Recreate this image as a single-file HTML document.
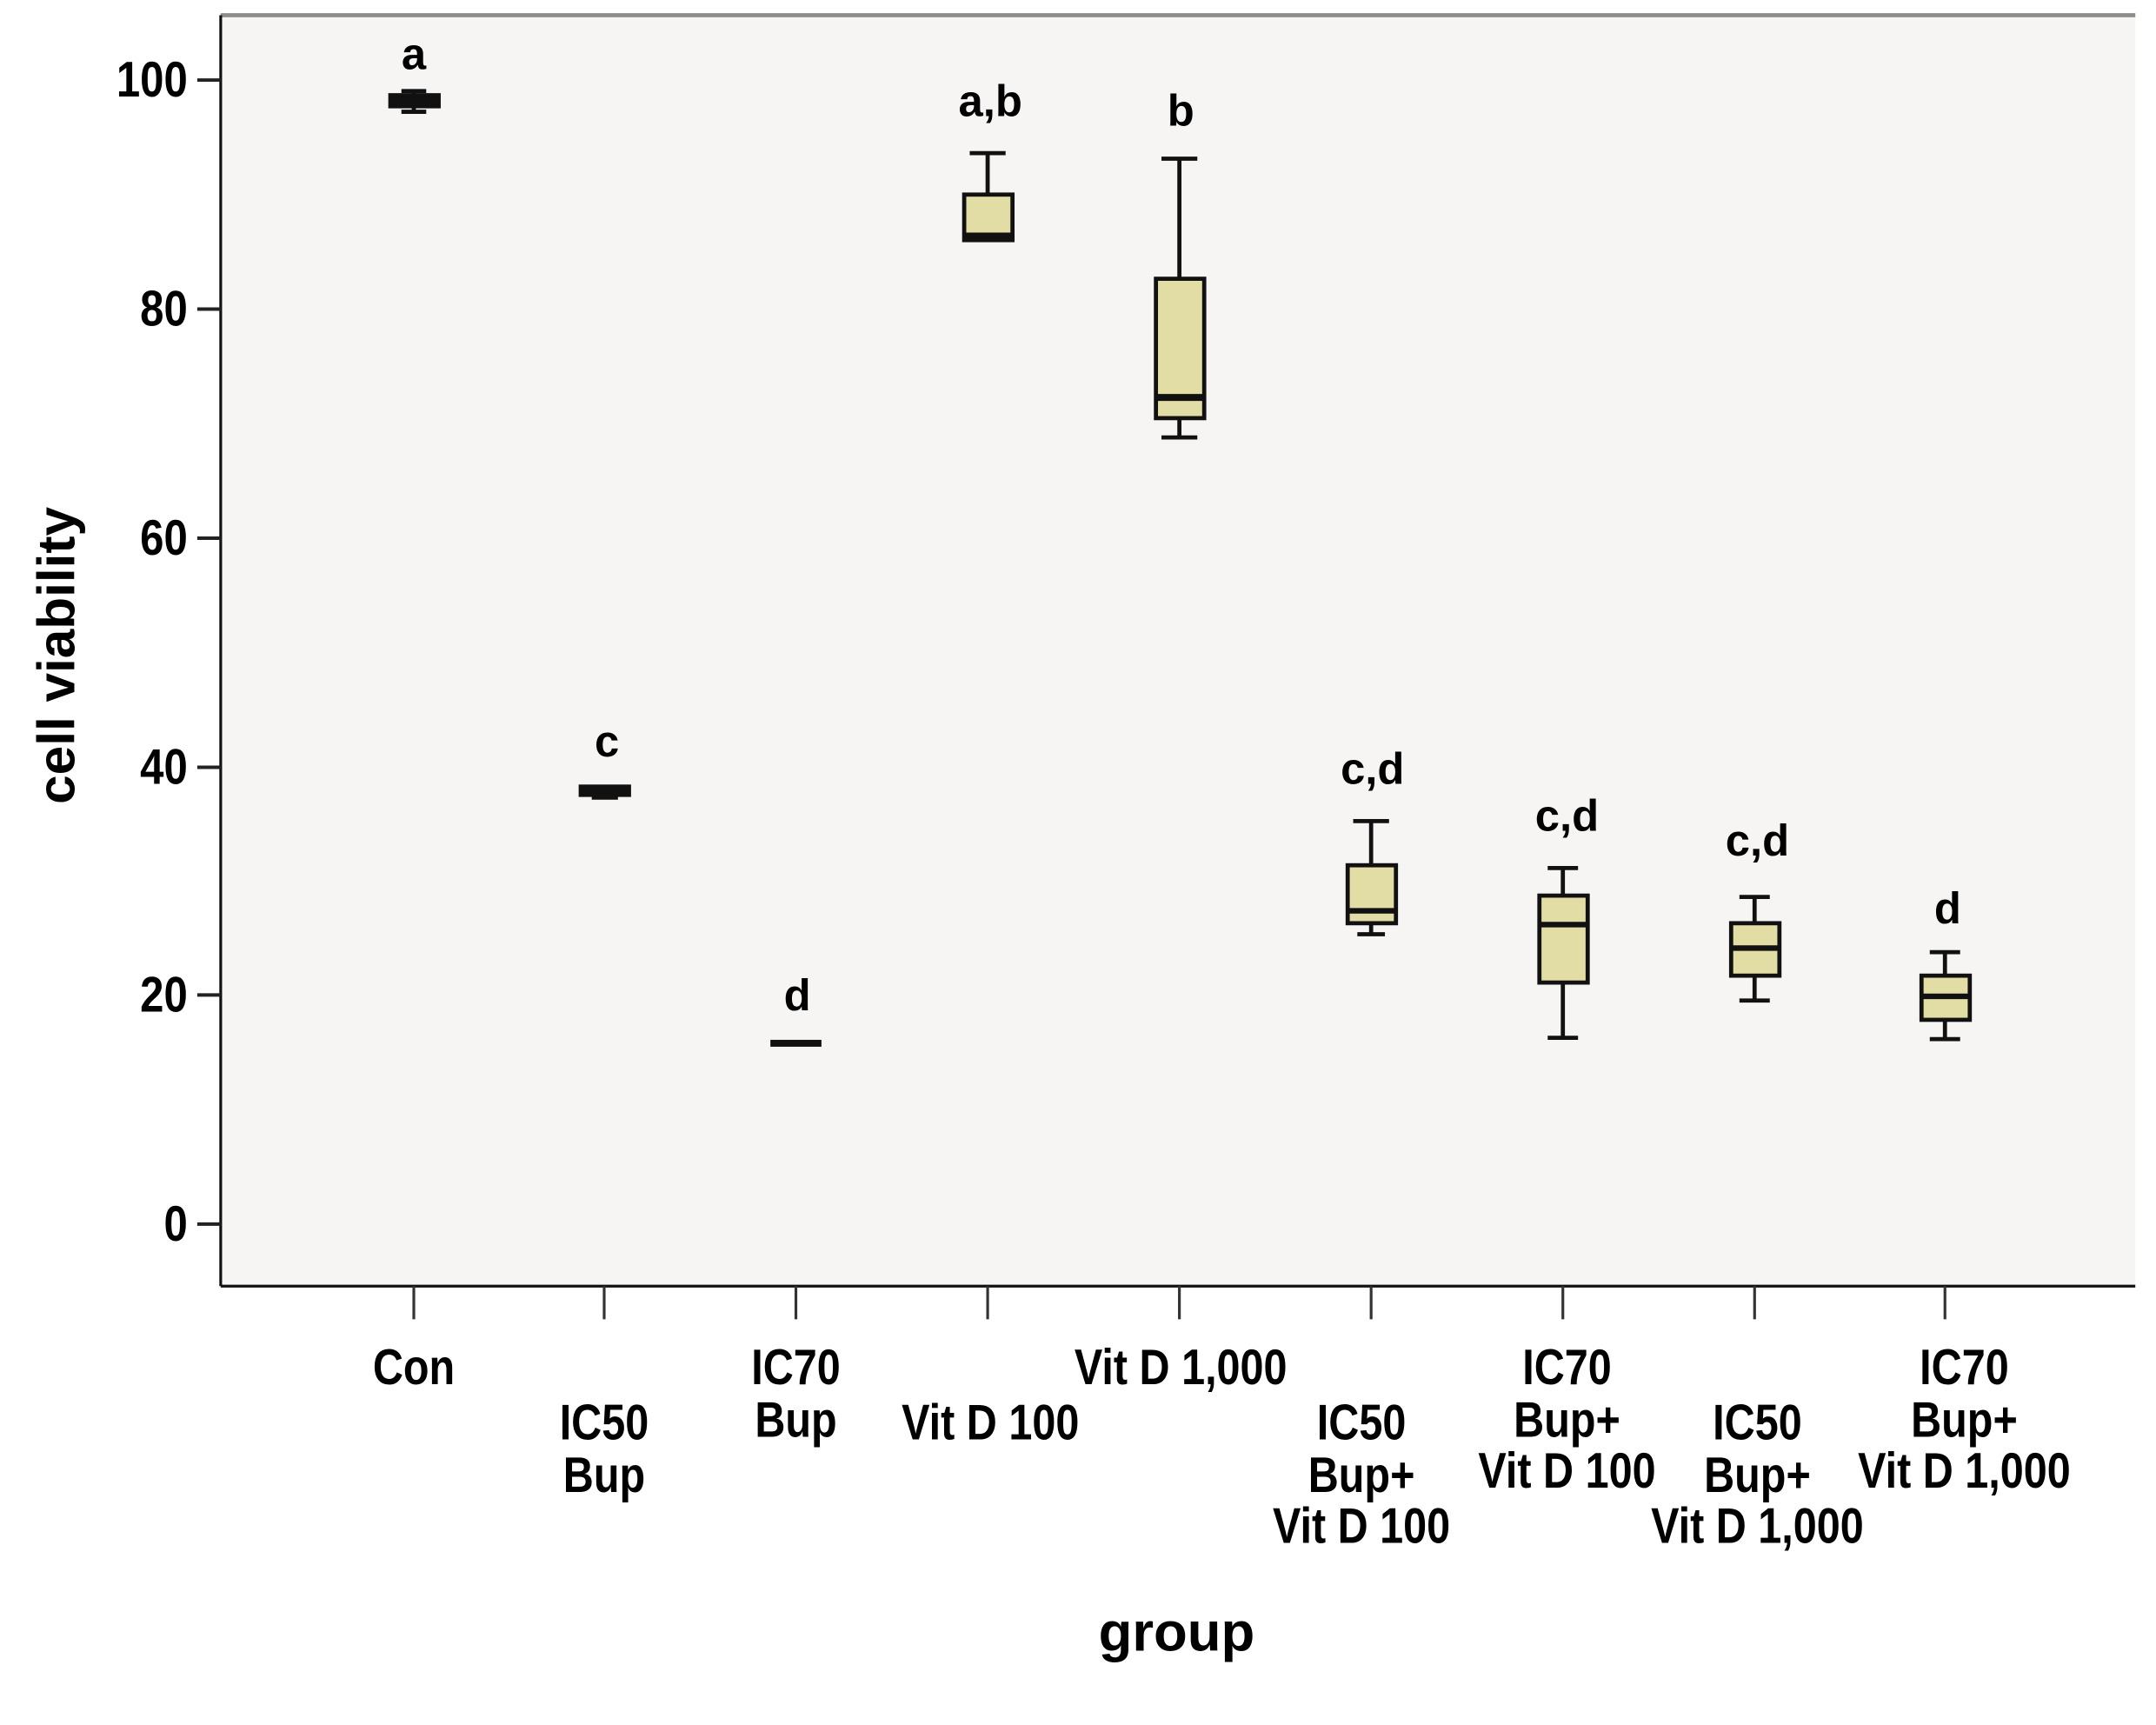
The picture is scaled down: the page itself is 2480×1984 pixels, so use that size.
<!DOCTYPE html>
<html><head><meta charset="utf-8"><style>
html,body{margin:0;padding:0;background:#fff;}
svg{display:block;}
.n{font-family:"Liberation Sans",sans-serif;font-weight:bold;fill:#000;}
.b{font-family:"Liberation Sans",sans-serif;font-weight:bold;fill:#000;}
</style></head><body>
<svg width="2480" height="1984" viewBox="0 0 1563 1250" preserveAspectRatio="none" xmlns="http://www.w3.org/2000/svg">
<rect x="0" y="0" width="1563" height="1250" fill="#fff"/>
<rect x="160" y="11" width="1388" height="921" fill="#f6f5f3"/>
<line x1="160" y1="11" x2="1548" y2="11" stroke="#8c8c8c" stroke-width="3"/>
<line x1="160" y1="932" x2="1548" y2="932" stroke="#111" stroke-width="2"/>
<line x1="160" y1="11" x2="160" y2="932" stroke="#111" stroke-width="2"/>
<g stroke="#222" stroke-width="2.5">
<line x1="143" y1="58" x2="160" y2="58"/><line x1="143" y1="224" x2="160" y2="224"/>
<line x1="143" y1="390" x2="160" y2="390"/><line x1="143" y1="556" x2="160" y2="556"/>
<line x1="143" y1="721" x2="160" y2="721"/><line x1="143" y1="887" x2="160" y2="887"/>
</g>
<g class="n" font-size="36" text-anchor="end">
<text transform="translate(136,70) scale(0.86,1)">100</text>
<text transform="translate(136,236) scale(0.86,1)">80</text>
<text transform="translate(136,402) scale(0.86,1)">60</text>
<text transform="translate(136,568) scale(0.86,1)">40</text>
<text transform="translate(136,733) scale(0.86,1)">20</text>
<text transform="translate(136,899) scale(0.86,1)">0</text>
</g>
<g stroke="#333" stroke-width="2">
<line x1="300" y1="932" x2="300" y2="956"/><line x1="438" y1="932" x2="438" y2="956"/>
<line x1="577" y1="932" x2="577" y2="956"/><line x1="716" y1="932" x2="716" y2="956"/>
<line x1="855" y1="932" x2="855" y2="956"/><line x1="994" y1="932" x2="994" y2="956"/>
<line x1="1133" y1="932" x2="1133" y2="956"/><line x1="1272" y1="932" x2="1272" y2="956"/>
<line x1="1410" y1="932" x2="1410" y2="956"/>
</g>
<g stroke="#111" stroke-width="3" fill="#e2dca5">
<line x1="300" y1="66" x2="300" y2="81"/><line x1="291" y1="66" x2="309" y2="66"/><line x1="291" y1="81" x2="309" y2="81"/>
<rect x="283" y="69" width="35" height="8" fill="#111"/>
<rect x="421" y="570" width="35" height="6" fill="#111"/><line x1="429" y1="578" x2="448" y2="578"/>
<rect x="559" y="754" width="36" height="4" fill="#111" stroke-width="1"/>
<line x1="716" y1="111" x2="716" y2="141"/><line x1="703" y1="111" x2="729" y2="111"/>
<rect x="699" y="141" width="35" height="33"/>
<line x1="699" y1="171" x2="734" y2="171" stroke-width="5"/>
<line x1="855" y1="115" x2="855" y2="202"/><line x1="842" y1="115" x2="868" y2="115"/>
<line x1="855" y1="303" x2="855" y2="317"/><line x1="842" y1="317" x2="868" y2="317"/>
<rect x="838" y="202" width="35" height="101"/>
<line x1="838" y1="288" x2="873" y2="288" stroke-width="5"/>
<line x1="994" y1="595" x2="994" y2="627"/><line x1="981" y1="595" x2="1007" y2="595"/>
<line x1="994" y1="669" x2="994" y2="677"/><line x1="984" y1="677" x2="1004" y2="677"/>
<rect x="977" y="627" width="35" height="42"/>
<line x1="977" y1="660" x2="1012" y2="660" stroke-width="4"/>
<line x1="1133" y1="629" x2="1133" y2="649"/><line x1="1122" y1="629" x2="1144" y2="629"/>
<line x1="1133" y1="712" x2="1133" y2="752"/><line x1="1122" y1="752" x2="1144" y2="752"/>
<rect x="1116" y="649" width="35" height="63"/>
<line x1="1116" y1="670" x2="1151" y2="670" stroke-width="4"/>
<line x1="1272" y1="650" x2="1272" y2="669"/><line x1="1261" y1="650" x2="1283" y2="650"/>
<line x1="1272" y1="707" x2="1272" y2="725"/><line x1="1261" y1="725" x2="1283" y2="725"/>
<rect x="1255" y="669" width="35" height="38"/>
<line x1="1255" y1="687" x2="1290" y2="687" stroke-width="4"/>
<line x1="1410" y1="690" x2="1410" y2="707"/><line x1="1399" y1="690" x2="1421" y2="690"/>
<line x1="1410" y1="739" x2="1410" y2="753"/><line x1="1399" y1="753" x2="1421" y2="753"/>
<rect x="1393" y="707" width="35" height="32"/>
<line x1="1393" y1="722" x2="1428" y2="722" stroke-width="4"/>
</g>
<g class="b" font-size="32" text-anchor="middle">
<text x="300" y="50">a</text><text x="440" y="548">c</text><text x="578" y="732">d</text>
<text x="718" y="84">a,b</text><text x="856" y="91">b</text><text x="995" y="568">c,d</text>
<text x="1136" y="602">c,d</text><text x="1274" y="620">c,d</text><text x="1412" y="669">d</text>
</g>
<g class="n" font-size="36" text-anchor="middle">
<text transform="translate(300,1003) scale(0.85,1)">Con</text>
<text transform="translate(438,1043) scale(0.85,1)">IC50</text>
<text transform="translate(438,1081) scale(0.85,1)">Bup</text>
<text transform="translate(577,1003) scale(0.85,1)">IC70</text>
<text transform="translate(577,1041) scale(0.85,1)">Bup</text>
<text transform="translate(718,1043) scale(0.85,1)">Vit D 100</text>
<text transform="translate(856,1003) scale(0.85,1)">Vit D 1,000</text>
<text transform="translate(987,1043) scale(0.85,1)">IC50</text>
<text transform="translate(987,1081) scale(0.85,1)">Bup+</text>
<text transform="translate(987,1118) scale(0.85,1)">Vit D 100</text>
<text transform="translate(1136,1003) scale(0.85,1)">IC70</text>
<text transform="translate(1136,1041) scale(0.85,1)">Bup+</text>
<text transform="translate(1136,1078) scale(0.85,1)">Vit D 100</text>
<text transform="translate(1274,1043) scale(0.85,1)">IC50</text>
<text transform="translate(1274,1081) scale(0.85,1)">Bup+</text>
<text transform="translate(1274,1118) scale(0.85,1)">Vit D 1,000</text>
<text transform="translate(1424,1003) scale(0.85,1)">IC70</text>
<text transform="translate(1424,1041) scale(0.85,1)">Bup+</text>
<text transform="translate(1424,1078) scale(0.85,1)">Vit D 1,000</text>
</g>
<text class="b" font-size="40" text-anchor="middle" x="853" y="1196">group</text>
<text class="b" font-size="38" text-anchor="middle" transform="translate(54,475) rotate(-90)">cell viability</text>
</svg>
</body></html>
